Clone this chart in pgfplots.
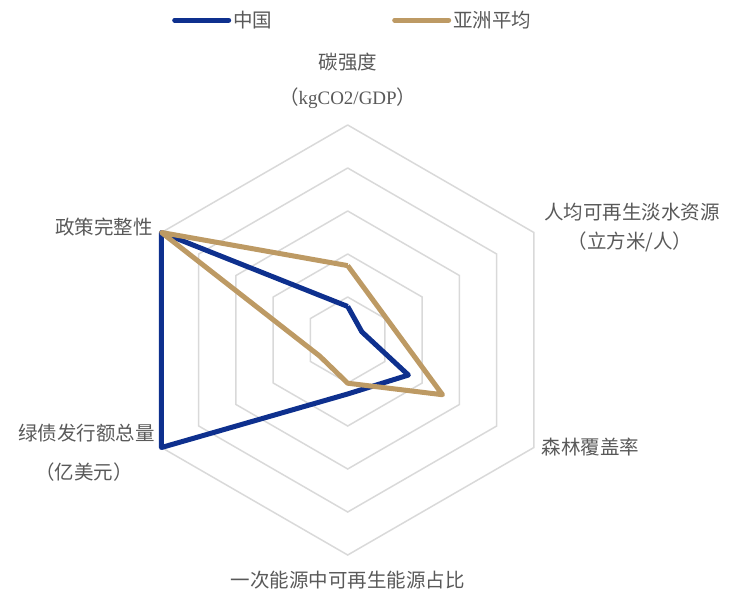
\documentclass[border=0pt]{standalone}
\usepackage{fontspec}
\setmainfont{Liberation Serif}
\newfontfamily\cjk{Noto Sans CJK SC}
\usepackage{pgfplots}
\pgfplotsset{compat=1.18}
\usepgfplotslibrary{polar}
\definecolor{cnblue}{HTML}{0E308E}
\definecolor{astan}{HTML}{BD9A64}
\definecolor{gridc}{HTML}{D9D9D9}
\definecolor{txt}{HTML}{595959}
\begin{document}
\begin{tikzpicture}
\useasboundingbox (-347.7pt,-257pt) rectangle (382.3pt,340pt);
\begin{polaraxis}[
  at={(0,0)}, anchor=center,
  scale only axis, width=430pt, height=430pt,
  ymin=0, ymax=100, hide axis, clip=false,
  legend columns=2,
  legend style={draw=none, fill=none, at={(0.0914,1.244)}, anchor=west,
    inner sep=0pt, font=\cjk\fontsize{19.5}{20}\selectfont, text=txt,
    /tikz/every even column/.append style={column sep=118pt},
    cells={anchor=west}},
  legend image code/.code={\draw[#1, line cap=round, line width=5pt] (0pt,0pt) -- (54pt,0pt);},
]
\pgfplotsinvokeforeach{20,40,60,80,100}{
  \addplot[gridc, line width=1.5pt, forget plot] coordinates {(90,#1) (30,#1) (-30,#1) (-90,#1) (210,#1) (150,#1) (90,#1)};
}
\addplot[cnblue, line width=5pt, line join=round] coordinates {(90,15.6) (30,7.6) (-30,32.6) (-90,25.1) (210,100) (150,100) (90,15.6)};
\addlegendentry{中国}
\addplot[astan, line width=5pt, line join=round] coordinates {(90,34.6) (30,20.6) (-30,50.9) (-90,20.1) (210,15) (150,100) (90,34.6)};
\addlegendentry{亚洲平均}
\end{polaraxis}
\tikzset{lab/.style={text=txt, inner sep=0pt, font=\cjk\fontsize{19.5}{20}\selectfont}}
\node[lab] at (0.3pt,278.3pt) {碳强度};
\node[lab] at (0pt,241.7pt) {（{\rmfamily\fontsize{19}{20}\selectfont kgCO2/GDP}）};
\node[lab] at (284.3pt,128.3pt) {人均可再生淡水资源};
\node[lab] at (282.3pt,98.3pt) {（立方米/人）};
\node[lab, anchor=west] at (194pt,-106.7pt) {森林覆盖率};
\node[lab] at (0.3pt,-240pt) {一次能源中可再生能源占比};
\node[lab, anchor=east] at (-194.7pt,112.7pt) {政策完整性};
\node[lab, anchor=east] at (-192.7pt,-92.7pt) {绿债发行额总量};
\node[lab] at (-263.7pt,-131.7pt) {（亿美元）};
\end{tikzpicture}
\end{document}
